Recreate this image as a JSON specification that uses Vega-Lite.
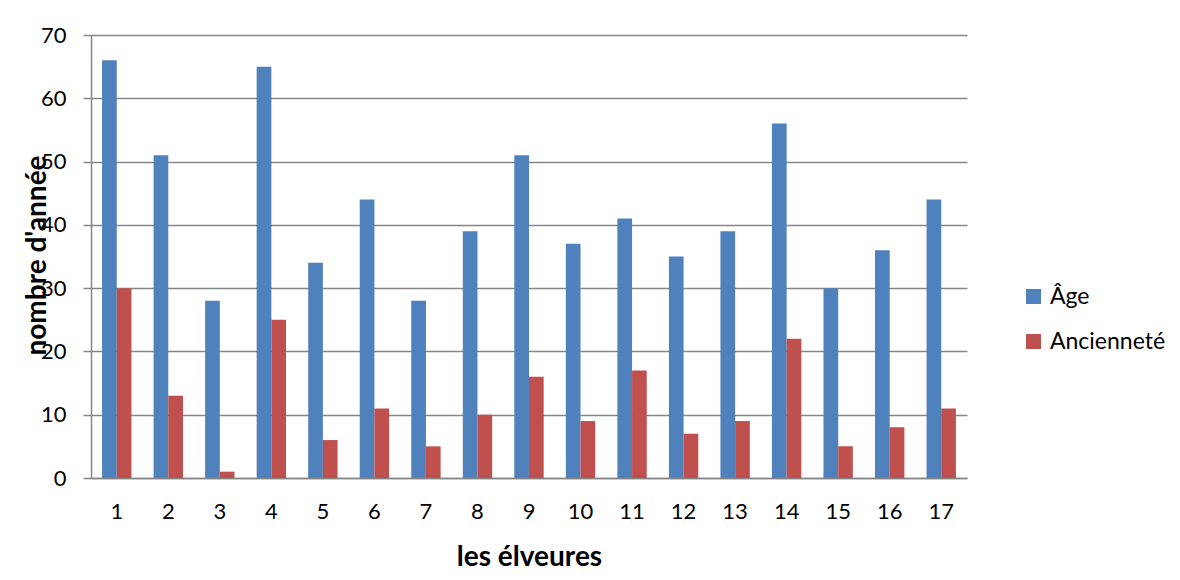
{
  "$schema": "https://vega.github.io/schema/vega-lite/v6.json",
  "autosize": {"type": "none"},
  "width": 876,
  "height": 443,
  "padding": {"left": 91, "top": 35, "right": 213, "bottom": 102},
  "background": "white",
  "data": {
    "values": [
      {"eleveur": 1, "serie": "Âge", "valeur": 66}, {"eleveur": 1, "serie": "Ancienneté", "valeur": 30},
      {"eleveur": 2, "serie": "Âge", "valeur": 51}, {"eleveur": 2, "serie": "Ancienneté", "valeur": 13},
      {"eleveur": 3, "serie": "Âge", "valeur": 28}, {"eleveur": 3, "serie": "Ancienneté", "valeur": 1},
      {"eleveur": 4, "serie": "Âge", "valeur": 65}, {"eleveur": 4, "serie": "Ancienneté", "valeur": 25},
      {"eleveur": 5, "serie": "Âge", "valeur": 34}, {"eleveur": 5, "serie": "Ancienneté", "valeur": 6},
      {"eleveur": 6, "serie": "Âge", "valeur": 44}, {"eleveur": 6, "serie": "Ancienneté", "valeur": 11},
      {"eleveur": 7, "serie": "Âge", "valeur": 28}, {"eleveur": 7, "serie": "Ancienneté", "valeur": 5},
      {"eleveur": 8, "serie": "Âge", "valeur": 39}, {"eleveur": 8, "serie": "Ancienneté", "valeur": 10},
      {"eleveur": 9, "serie": "Âge", "valeur": 51}, {"eleveur": 9, "serie": "Ancienneté", "valeur": 16},
      {"eleveur": 10, "serie": "Âge", "valeur": 37}, {"eleveur": 10, "serie": "Ancienneté", "valeur": 9},
      {"eleveur": 11, "serie": "Âge", "valeur": 41}, {"eleveur": 11, "serie": "Ancienneté", "valeur": 17},
      {"eleveur": 12, "serie": "Âge", "valeur": 35}, {"eleveur": 12, "serie": "Ancienneté", "valeur": 7},
      {"eleveur": 13, "serie": "Âge", "valeur": 39}, {"eleveur": 13, "serie": "Ancienneté", "valeur": 9},
      {"eleveur": 14, "serie": "Âge", "valeur": 56}, {"eleveur": 14, "serie": "Ancienneté", "valeur": 22},
      {"eleveur": 15, "serie": "Âge", "valeur": 30}, {"eleveur": 15, "serie": "Ancienneté", "valeur": 5},
      {"eleveur": 16, "serie": "Âge", "valeur": 36}, {"eleveur": 16, "serie": "Ancienneté", "valeur": 8},
      {"eleveur": 17, "serie": "Âge", "valeur": 44}, {"eleveur": 17, "serie": "Ancienneté", "valeur": 11}
    ]
  },
  "mark": {"type": "bar"},
  "encoding": {
    "x": {
      "field": "eleveur",
      "type": "ordinal",
      "sort": null,
      "scale": {"paddingInner": 0.43, "paddingOuter": 0.215},
      "axis": {
        "title": "les élveures",
        "titleFont": "Lato",
        "titleFontSize": 28,
        "titleFontWeight": "bold",
        "titleColor": "black",
        "titleX": 438,
        "titleY": 87,
        "titleBaseline": "alphabetic",
        "titleAlign": "center",
        "labelAngle": 0,
        "labelFont": "Lato",
        "labelFontSize": 22,
        "labelColor": "black",
        "labelPadding": 23,
        "ticks": false,
        "domainColor": "#868686",
        "domainWidth": 1.5
      }
    },
    "xOffset": {"field": "serie", "type": "nominal", "sort": ["Âge", "Ancienneté"]},
    "y": {
      "field": "valeur",
      "type": "quantitative",
      "scale": {"domain": [0, 70], "nice": false},
      "axis": {
        "values": [0, 10, 20, 30, 40, 50, 60, 70],
        "title": "nombre d'année",
        "titleFont": "Lato",
        "titleFontSize": 28,
        "titleFontWeight": "bold",
        "titleColor": "black",
        "titleAngle": -90,
        "titleX": -46,
        "titleY": 220,
        "titleAlign": "center",
        "titleBaseline": "alphabetic",
        "labelFont": "Lato",
        "labelFontSize": 22,
        "labelColor": "black",
        "labelPadding": 17,
        "tickSize": 8,
        "tickColor": "#868686",
        "tickWidth": 1.5,
        "domainColor": "#868686",
        "domainWidth": 1.5,
        "grid": true,
        "gridColor": "#868686",
        "gridWidth": 1.5
      }
    },
    "color": {
      "field": "serie",
      "type": "nominal",
      "scale": {"domain": ["Âge", "Ancienneté"], "range": ["#4F81BD", "#C0504D"]},
      "legend": {
        "title": null,
        "orient": "none",
        "legendX": 931,
        "legendY": 250,
        "symbolType": "square",
        "symbolSize": 225,
        "symbolStrokeWidth": 0,
        "labelFont": "Lato",
        "labelFontSize": 23,
        "labelColor": "black",
        "labelOffset": 5,
        "rowPadding": 21
      }
    }
  },
  "config": {
    "view": {"stroke": null}
  }
}
